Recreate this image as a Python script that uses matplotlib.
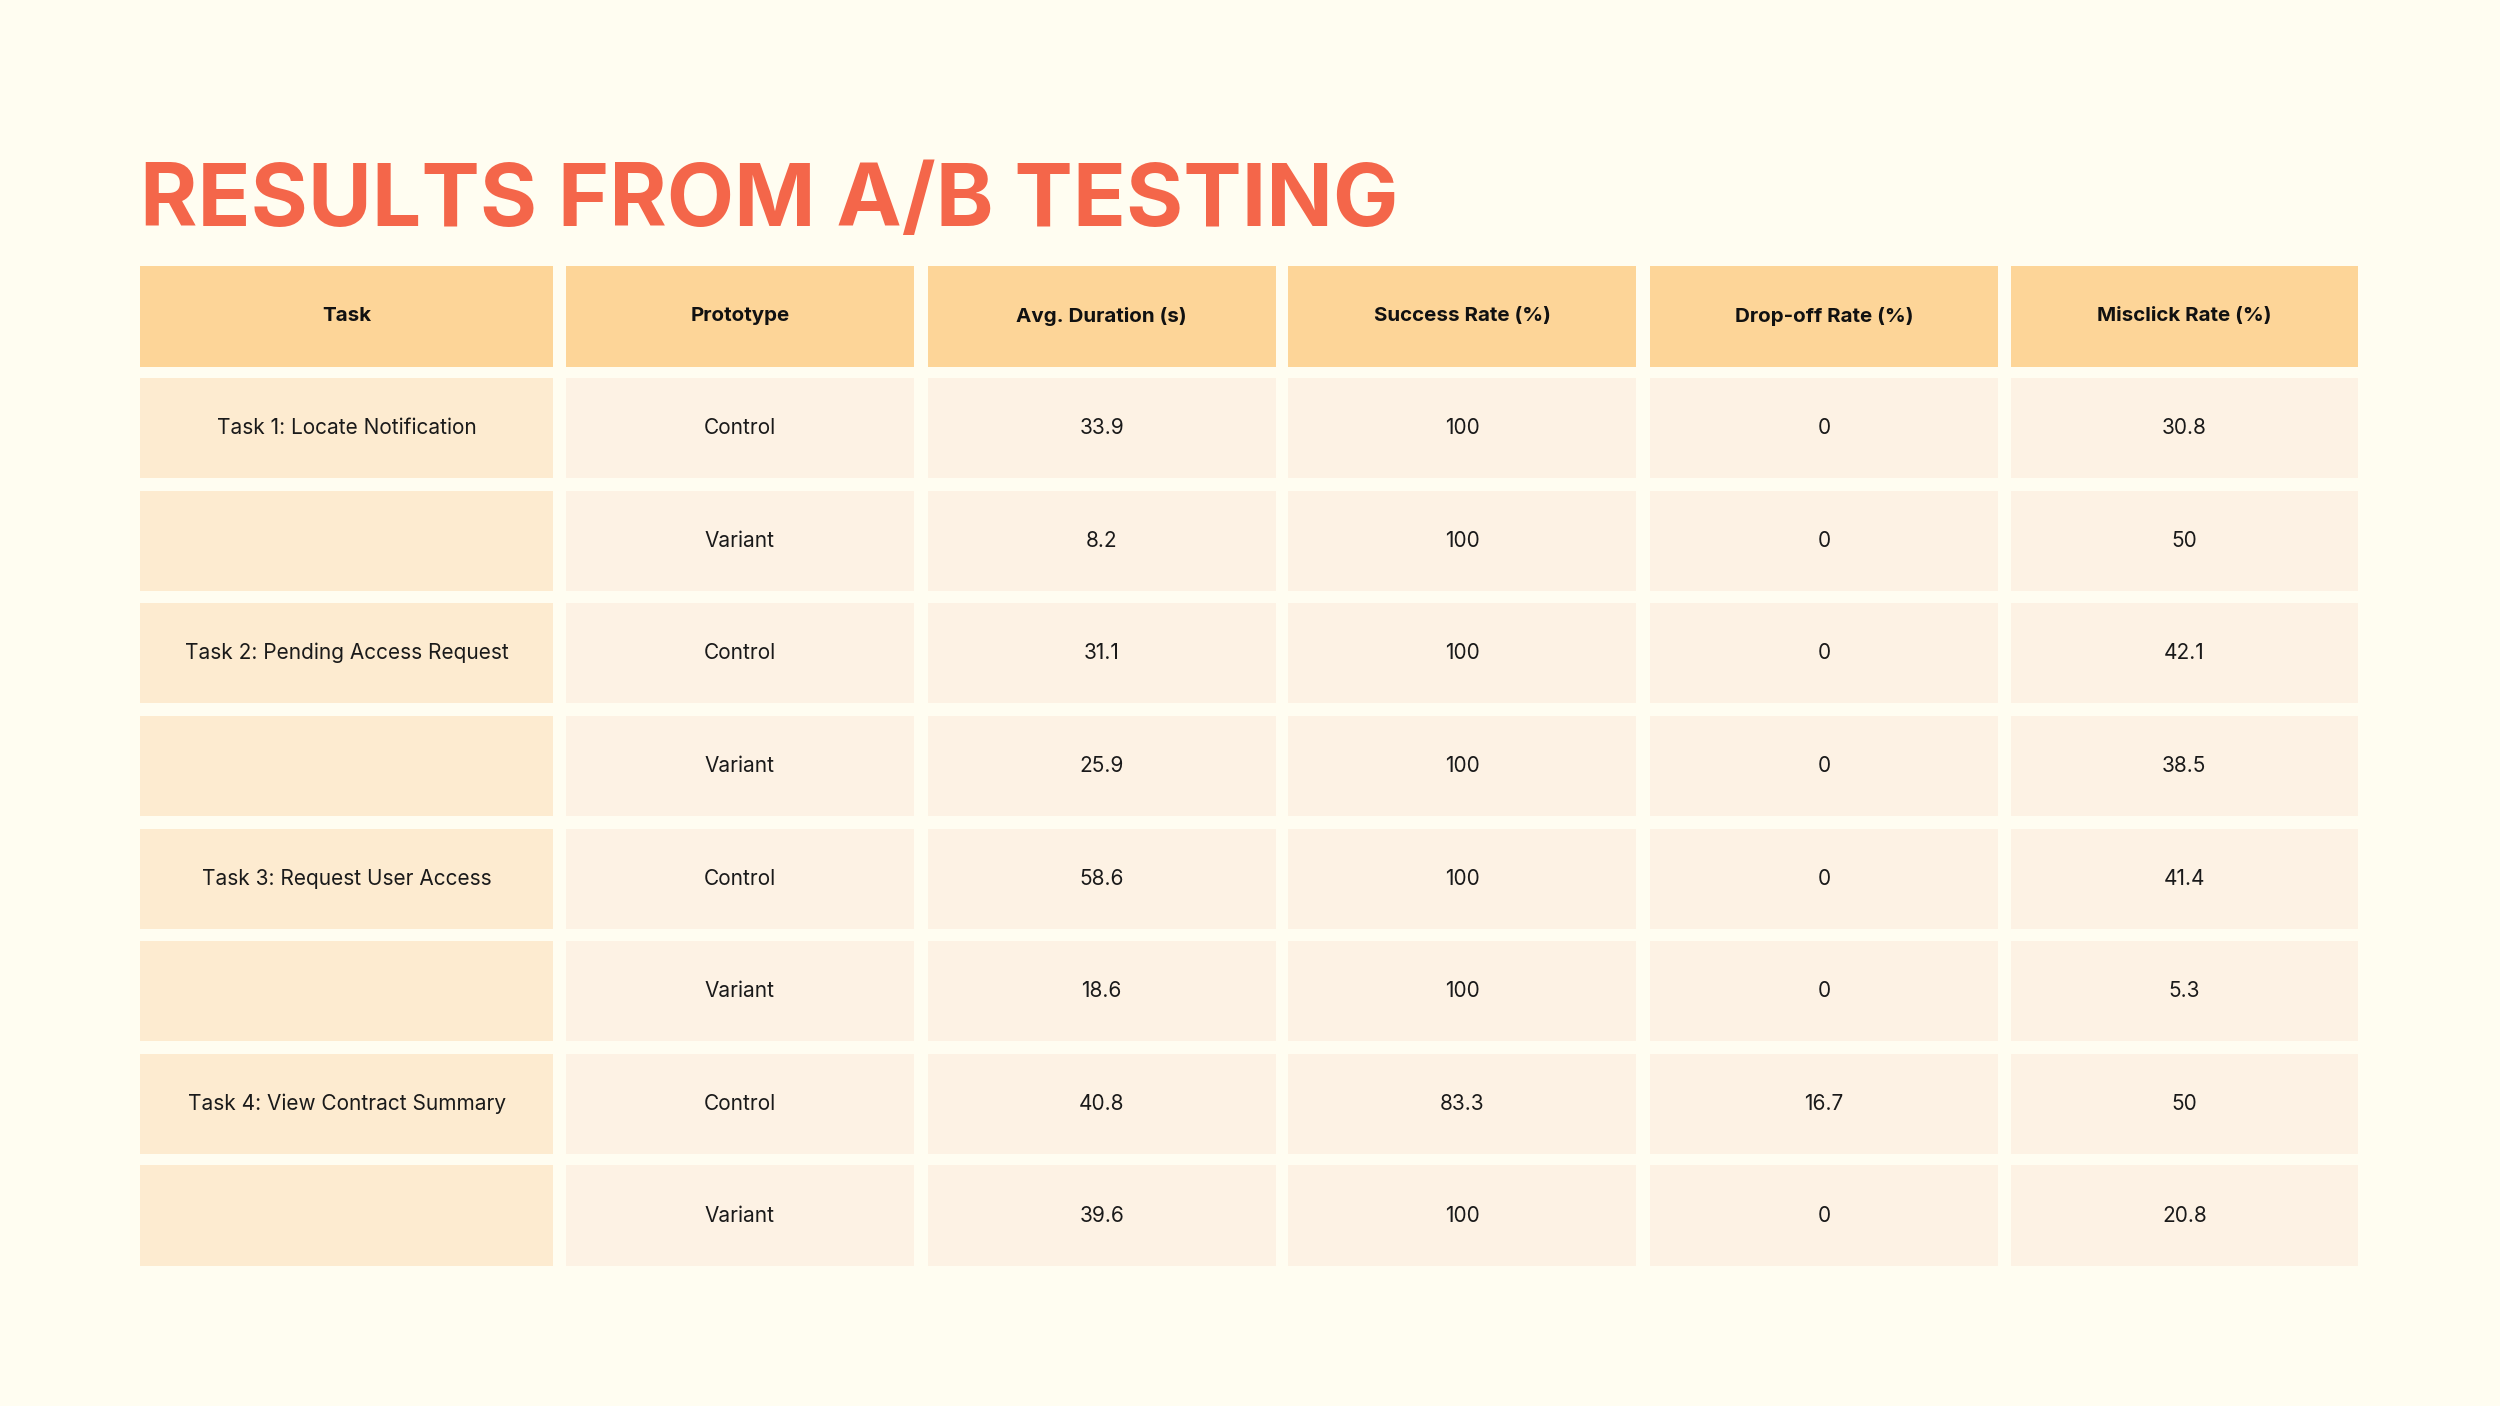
import matplotlib.pyplot as plt
from matplotlib.patches import Rectangle

headers = ["Task", "Prototype", "Avg. Duration (s)", "Success Rate (%)", "Drop-off Rate (%)", "Misclick Rate (%)"]
tasks = ["Task 1: Locate Notification", "", "Task 2: Pending Access Request", "",
         "Task 3: Request User Access", "", "Task 4: View Contract Summary", ""]
prototypes = ["Control", "Variant"] * 4
avg_duration = ["33.9", "8.2", "31.1", "25.9", "58.6", "18.6", "40.8", "39.6"]
success_rate = ["100", "100", "100", "100", "100", "100", "83.3", "100"]
dropoff_rate = ["0", "0", "0", "0", "0", "0", "16.7", "0"]
misclick_rate = ["30.8", "50", "42.1", "38.5", "41.4", "5.3", "50", "20.8"]

BG = "#FFFDF1"
fig = plt.figure(figsize=(25, 14.06), dpi=100, facecolor=BG)
ax = fig.add_axes([0, 0, 1, 1])
ax.set_xlim(0, 1568); ax.set_ylim(882, 0); ax.axis("off")
ax.set_facecolor(BG)

cols = [(88, 347), (355, 573), (582, 800), (808, 1026), (1035, 1253), (1261, 1479)]
head_y = (167, 230)
row_y = [(237, 300), (308, 371), (378, 441), (449, 512), (520, 583), (590, 653), (661, 724), (731, 794)]

ax.text(88, 142, "RESULTS FROM A/B TESTING", fontsize=63, fontweight="bold",
        family="Inter", color="#F4664A", va="baseline", ha="left")

for (x0, x1), h in zip(cols, headers):
    ax.add_patch(Rectangle((x0, head_y[0]), x1 - x0, head_y[1] - head_y[0], color="#FDD598", lw=0))
    ax.text((x0 + x1) / 2, sum(head_y) / 2, h, fontsize=14.8, fontweight="bold", family="Inter",
            ha="center", va="center", color="#111111")

data = list(zip(tasks, prototypes, avg_duration, success_rate, dropoff_rate, misclick_rate))
for (y0, y1), row in zip(row_y, data):
    for ci, ((x0, x1), val) in enumerate(zip(cols, row)):
        c = "#FDEBD0" if ci == 0 else "#FDF2E4"
        ax.add_patch(Rectangle((x0, y0), x1 - x0, y1 - y0, color=c, lw=0))
        ax.text((x0 + x1) / 2, (y0 + y1) / 2, val, fontsize=15, family="Inter",
                ha="center", va="center", color="#1a1a1a")

fig.savefig("out.png", dpi=100, facecolor=BG)
